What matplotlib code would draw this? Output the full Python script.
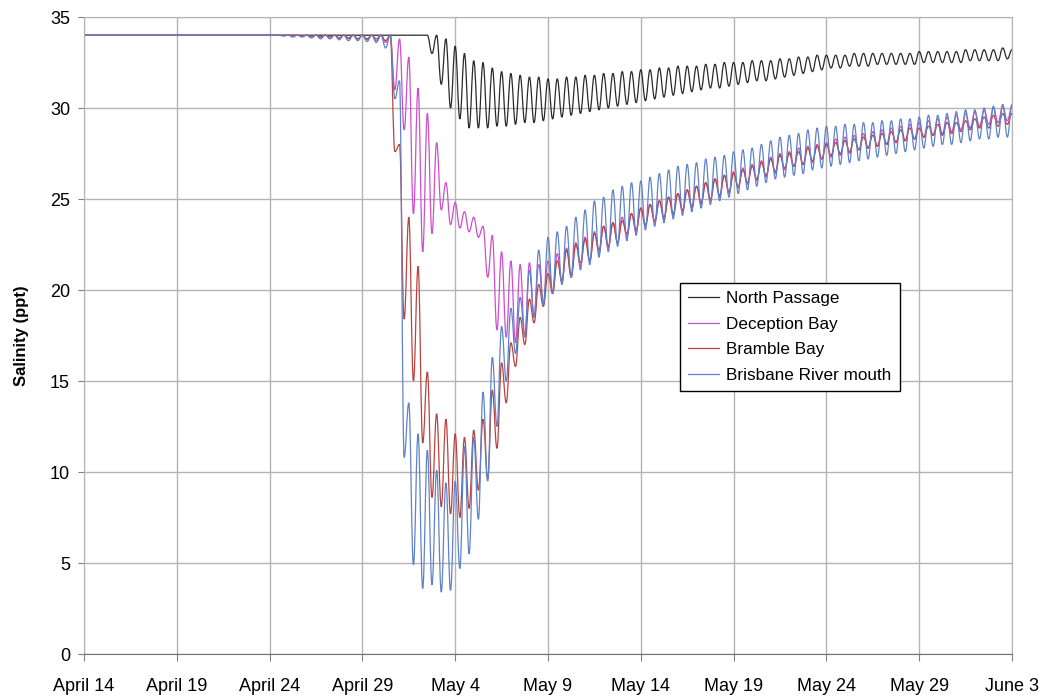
import matplotlib
matplotlib.use("Agg")
import matplotlib.pyplot as plt
from matplotlib.path import Path
from matplotlib.patches import PathPatch
from matplotlib.lines import Line2D

plt.rcParams['font.family'] = ['Liberation Sans', 'DejaVu Sans']

# day 0 = April 14, tick every 5 days
tick_days = [0, 5, 10, 15, 20, 25, 30, 35, 40, 45, 50]
tick_labels = ["April 14", "April 19", "April 24", "April 29", "May 4", "May 9",
               "May 14", "May 19", "May 24", "May 29", "June 3"]
start_salinity = 34.0

# tidal highs / lows, one per half-day cycle (high at t0 + 0.5k, low 6 h later)
north_t0 = 18.5
north_hi = [34.0, 34.0, 33.8, 33.4, 33.0, 32.6, 32.5, 32.2, 32.0, 31.9,
            31.8, 31.7, 31.7, 31.6, 31.6, 31.7, 31.7, 31.8, 31.8, 31.9,
            31.9, 32.0, 32.0, 32.1, 32.1, 32.2, 32.2, 32.3, 32.3, 32.3,
            32.4, 32.4, 32.5, 32.5, 32.5, 32.6, 32.6, 32.6, 32.7, 32.7,
            32.8, 32.8, 32.9, 32.9, 32.9, 32.9, 33.0, 33.0, 33.0, 33.0,
            33.0, 33.0, 33.0, 33.1, 33.1, 33.1, 33.1, 33.1, 33.2, 33.2,
            33.2, 33.2, 33.3, 33.2]
north_lo = [33.0, 31.3, 30.0, 29.4, 28.9, 28.9, 28.9, 29.0, 29.0, 29.1,
            29.2, 29.2, 29.3, 29.4, 29.5, 29.6, 29.7, 29.8, 29.9, 30.0,
            30.1, 30.2, 30.3, 30.4, 30.5, 30.6, 30.7, 30.8, 30.9, 31.0,
            31.1, 31.1, 31.2, 31.3, 31.4, 31.5, 31.5, 31.6, 31.7, 31.8,
            31.9, 32.0, 32.1, 32.2, 32.2, 32.3, 32.3, 32.3, 32.4, 32.4,
            32.4, 32.4, 32.4, 32.5, 32.5, 32.5, 32.5, 32.5, 32.6, 32.6,
            32.6, 32.6, 32.7]

deception_t0 = 10.0
deception_hi = [34.0, 34.0, 34.0, 34.0, 34.0, 34.0, 34.0, 34.0, 34.0, 34.0,
                34.0, 34.0, 34.0, 34.0,
                33.8, 32.8, 31.1, 29.7, 28.1, 25.9, 24.8, 24.3, 24.0, 23.5,
                23.0, 22.1, 21.6, 21.4, 21.5, 21.4, 21.6, 22.0, 22.3, 22.6,
                22.9, 23.2, 23.5, 23.7, 24.0, 24.2,
                24.5, 24.7, 24.9, 25.1, 25.3, 25.5, 25.7, 25.9, 26.1, 26.3,
                26.5, 26.7, 26.9, 27.1, 27.3, 27.5, 27.6, 27.8, 27.9, 28.0,
                28.1, 28.3, 28.4, 28.5, 28.6, 28.7, 28.8, 28.9, 29.0, 29.1,
                29.2, 29.3, 29.4, 29.5, 29.6, 29.7, 29.8, 29.9, 30.0, 30.1,
                30.1]
deception_lo = [34.0, 34.0, 33.95, 33.95, 33.9, 33.9, 33.85, 33.85, 33.8, 33.8,
                33.75, 33.7, 33.6, 31.0,
                28.8, 24.2, 22.1, 23.1, 24.4, 23.6, 23.4, 23.2, 22.9, 20.7,
                17.8, 17.4, 17.1, 17.4, 18.5, 19.3, 19.9, 20.4, 20.8, 21.3,
                21.6, 22.0, 22.3, 22.6, 22.9, 23.2,
                23.5, 23.7, 23.9, 24.1, 24.3, 24.5, 24.7, 24.9, 25.1, 25.3,
                25.6, 25.8, 26.0, 26.2, 26.4, 26.6, 26.8, 26.9, 27.0, 27.2,
                27.3, 27.4, 27.5, 27.7, 27.8, 27.9, 28.0, 28.1, 28.2, 28.3,
                28.4, 28.5, 28.6, 28.7, 28.8, 28.9, 29.0, 29.1, 29.2, 29.3]

bramble_t0 = 10.0
bramble_hi = [34.0, 34.0, 34.0, 34.0, 34.0, 34.0, 34.0, 34.0, 34.0, 34.0,
              34.0, 34.0, 34.0, 34.0,
              28.0, 24.0, 21.3, 15.5, 13.2, 12.9, 12.1, 11.9, 12.3, 12.9,
              14.5, 16.0, 17.1, 18.5, 19.5, 20.3, 20.9, 21.6, 22.2, 22.5,
              22.8, 23.1, 23.5, 23.7, 23.8, 24.2,
              24.5, 24.7, 24.9, 25.1, 25.3, 25.5, 25.7, 25.9, 26.1, 26.3,
              26.4, 26.6, 26.8, 27.0, 27.2, 27.4, 27.5, 27.6, 27.8, 27.9,
              28.0, 28.1, 28.2, 28.3, 28.4, 28.5, 28.6, 28.7, 28.8, 28.9,
              28.9, 29.0, 29.1, 29.2, 29.2, 29.3, 29.4, 29.5, 29.6, 29.7,
              29.7]
bramble_lo = [34.0, 34.0, 34.0, 33.95, 33.95, 33.9, 33.9, 33.85, 33.85, 33.8,
              33.8, 33.8, 33.7, 27.6,
              18.4, 15.0, 11.6, 8.6, 8.1, 7.7, 7.5, 8.0, 9.0, 9.6,
              11.3, 13.8, 15.8, 17.0, 18.2, 19.1, 19.8, 20.5, 20.7, 21.5,
              21.6, 22.2, 22.4, 22.6, 23.1, 23.3,
              23.6, 23.8, 24.0, 24.2, 24.4, 24.6, 24.8, 25.0, 25.2, 25.4,
              25.7, 25.9, 26.1, 26.3, 26.5, 26.7, 26.8, 26.9, 27.1, 27.2,
              27.4, 27.5, 27.6, 27.7, 27.8, 27.9, 28.0, 28.1, 28.2, 28.3,
              28.4, 28.5, 28.5, 28.6, 28.7, 28.8, 28.9, 28.9, 29.0, 29.1]

brisbane_t0 = 10.0
brisbane_hi = [34.0, 34.0, 34.0, 34.0, 34.0, 34.0, 34.0, 34.0, 34.0, 34.0,
               34.0, 34.0, 34.0, 34.0,
               31.5, 13.8, 12.1, 11.2, 10.1, 9.4, 9.5, 11.4, 11.9, 14.4,
               16.3, 18.0, 19.0, 19.6, 21.1, 22.2, 22.9, 23.2, 23.5, 24.0,
               24.4, 24.9, 25.1, 25.5, 25.7, 25.9,
               26.0, 26.2, 26.4, 26.6, 26.8, 26.9, 27.0, 27.2, 27.3, 27.4,
               27.6, 27.7, 27.8, 28.0, 28.2, 28.4, 28.5, 28.6, 28.8, 28.9,
               29.0, 29.0, 29.1, 29.1, 29.2, 29.2, 29.3, 29.3, 29.4, 29.4,
               29.5, 29.6, 29.6, 29.7, 29.8, 29.9, 29.9, 30.0, 30.1, 30.2,
               30.2]
brisbane_lo = [34.0, 33.95, 33.9, 33.9, 33.85, 33.8, 33.8, 33.75, 33.7, 33.7,
               33.65, 33.6, 33.3, 30.5,
               10.8, 4.9, 3.6, 3.8, 3.4, 3.5, 4.7, 5.5, 7.4, 9.5,
               12.5, 15.0, 16.5, 17.5, 18.5, 19.2, 19.8, 20.3, 20.7, 21.1,
               21.4, 21.8, 22.1, 22.4, 22.7, 23.0,
               23.3, 23.5, 23.7, 23.9, 24.1, 24.3, 24.5, 24.7, 24.9, 25.1,
               25.3, 25.5, 25.7, 25.9, 26.1, 26.2, 26.3, 26.4, 26.6, 26.7,
               26.8, 26.9, 27.0, 27.1, 27.2, 27.3, 27.4, 27.5, 27.6, 27.7,
               27.8, 27.9, 28.0, 28.0, 28.1, 28.2, 28.3, 28.3, 28.4, 28.4]


def tide_points(t0, hi, lo):
    # flat start, then high / low turning points of each tide
    t = [0.0]
    v = [start_salinity]
    for k in range(len(lo)):
        t += [t0 + 0.5 * k, t0 + 0.5 * k + 0.25]
        v += [hi[k], lo[k]]
    t.append(t0 + 0.5 * len(lo))
    v.append(hi[len(lo)])
    return t, v


def tide_path(t, v, c=0.4):
    # bezier between turning points, flat tangent at each high/low
    verts = [(t[0], v[0])]
    codes = [Path.MOVETO]
    for i in range(len(t) - 1):
        d = t[i + 1] - t[i]
        verts += [(t[i] + c * d, v[i]), (t[i + 1] - c * d, v[i + 1]), (t[i + 1], v[i + 1])]
        codes += [Path.CURVE4] * 3
    return Path(verts, codes)


series = [
    ("North Passage", north_t0, north_hi, north_lo, "#2a2a2a"),
    ("Deception Bay", deception_t0, deception_hi, deception_lo, "#cc4fcc"),
    ("Bramble Bay", bramble_t0, bramble_hi, bramble_lo, "#b8443f"),
    ("Brisbane River mouth", brisbane_t0, brisbane_hi, brisbane_lo, "#5f82c8"),
]

fig = plt.figure(figsize=(10.5, 7), dpi=100)
ax = fig.add_axes([0.08, 0.0657, 0.8838, 0.91])

handles = []
for name, t0, hi, lo, col in series:
    t, v = tide_points(t0, hi, lo)
    ax.add_patch(PathPatch(tide_path(t, v), fill=False, edgecolor=col, lw=0.9))
    handles.append(Line2D([], [], color=col, lw=0.9, label=name))

ax.set_xlim(0, 50)
ax.set_ylim(0, 35)
ax.set_xticks(tick_days)
ax.set_xticklabels(tick_labels, fontsize=13)
ax.set_yticks(range(0, 36, 5))
ax.tick_params(axis='y', labelsize=13, length=4, color='#808080', pad=6)
ax.tick_params(axis='x', length=5, color='#808080', pad=12)
ax.grid(True, color='#b4b4b4', lw=1)
ax.set_axisbelow(True)
for side in ['top', 'right', 'left']:
    ax.spines[side].set_color('#b4b4b4')
ax.spines['bottom'].set_color('#707070')
ax.set_ylabel("Salinity (ppt)", fontsize=12, fontweight='bold', labelpad=15)

leg = ax.legend(handles=handles, loc='upper left', bbox_to_anchor=(0.642, 0.583),
                fontsize=12.3, frameon=True, fancybox=False, edgecolor='black',
                framealpha=1, handlelength=1.8, handletextpad=0.4,
                borderpad=0.5, labelspacing=0.62, borderaxespad=0)
leg.get_frame().set_linewidth(1.0)

fig.savefig("out.png", dpi=100)
